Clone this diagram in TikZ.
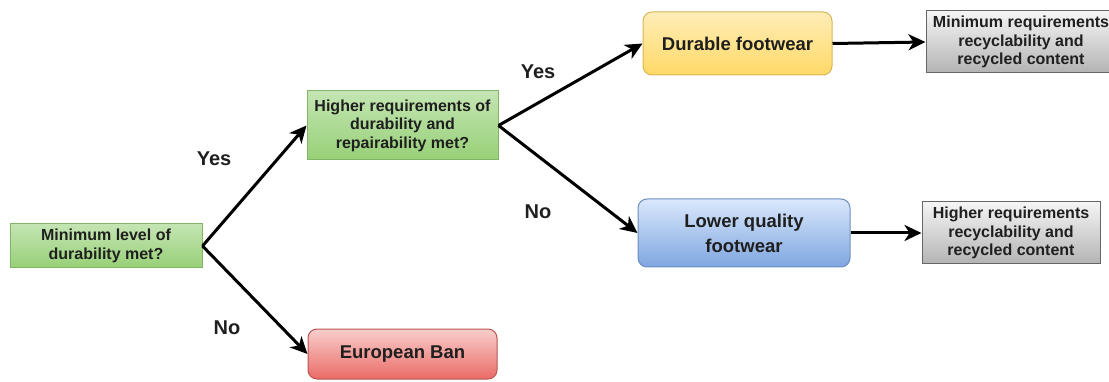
\documentclass[tikz,border=0pt]{standalone}
\usepackage{fontspec}
\setmainfont{Liberation Sans}
\usepackage{tikz}
\usetikzlibrary{arrows.meta}
\definecolor{gfill}{HTML}{C4E5B3}\definecolor{gfill2}{HTML}{97D077}\definecolor{gline}{HTML}{82B366}
\definecolor{yfill}{HTML}{FFEDB8}\definecolor{yfill2}{HTML}{FFD966}\definecolor{yline}{HTML}{D6B656}
\definecolor{bfill}{HTML}{DAE8FC}\definecolor{bfill2}{HTML}{7EA6E0}\definecolor{bline}{HTML}{6C8EBF}
\definecolor{rfill}{HTML}{F8CECC}\definecolor{rfill2}{HTML}{EA6B66}\definecolor{rline}{HTML}{B85450}
\definecolor{sfill}{HTML}{F5F5F5}\definecolor{sfill2}{HTML}{B3B3B3}\definecolor{sline}{HTML}{666666}

\begin{document}
\begin{tikzpicture}[x=1pt,y=-1pt]
    \tikzstyle{box} = [draw,line width=1pt,align=center,inner sep=0pt,text=black!88,
                       font=\bfseries\fontsize{16}{18.5}\selectfont]
    \tikzstyle{big} = [font=\bfseries\fontsize{18.5}{25}\selectfont,rounded corners=9pt]
    \tikzstyle{gbox} = [box,draw=gline,top color=gfill,bottom color=gfill2]
    \tikzstyle{ybox} = [box,big,draw=yline,top color=yfill,bottom color=yfill2]
    \tikzstyle{bbox} = [box,big,draw=bline,top color=bfill,bottom color=bfill2]
    \tikzstyle{rbox} = [box,big,draw=rline,top color=rfill,bottom color=rfill2]
    \tikzstyle{sbox} = [box,draw=sline,top color=sfill,bottom color=sfill2]
    \tikzstyle{lbl} = [font=\bfseries\fontsize{20}{24}\selectfont,text=black!88]
    \tikzstyle{arr} = [draw,line width=3pt,-{Stealth[length=17pt,width=16pt,inset=5pt]}]
    \clip (0,0) rectangle (1109,382);
    %%
    \node [gbox,minimum width=192pt,minimum height=44pt] (min) at (106,246)
      {Minimum level of\\durability met?};
    \node [gbox,minimum width=191pt,minimum height=69pt] (high) at (402.5,125.5)
      {Higher requirements of\\durability and\\repairability met?};
    \node [rbox,minimum width=189pt,minimum height=50pt] (ban) at (402.5,354) {European Ban};
    %%
    \node [ybox,minimum width=189pt,minimum height=63pt] (dur) at (737.5,43.5) {Durable footwear};
    \node [bbox,minimum width=212pt,minimum height=68pt] (low) at (744,233) {Lower quality\\footwear};
    \node [sbox,minimum width=190pt,minimum height=62pt] (minrc) at (1021,42)
      {Minimum requirements\\recyclability and\\recycled content};
    \node [sbox,minimum width=178pt,minimum height=62pt] (highrc) at (1011,233)
      {Higher requirements\\recyclability and\\recycled content};
    %%
    \path [arr] (min.east) -- (high.west);
    \path [arr] (min.east) -- (ban.west);
    \path [arr] (high.east) -- (dur.west);
    \path [arr] (high.east) -- (low.west);
    \path [arr] (dur.east) -- (minrc.west);
    \path [arr] (low.east) -- (highrc.west);
    %%
    \node [lbl] (yes1) at (214,159) {Yes};
    \node [lbl] (no1) at (227,328) {No};
    \node [lbl] (yes2) at (538,72) {Yes};
    \node [lbl] (no2) at (538,212) {No};
\end{tikzpicture}
\end{document}
